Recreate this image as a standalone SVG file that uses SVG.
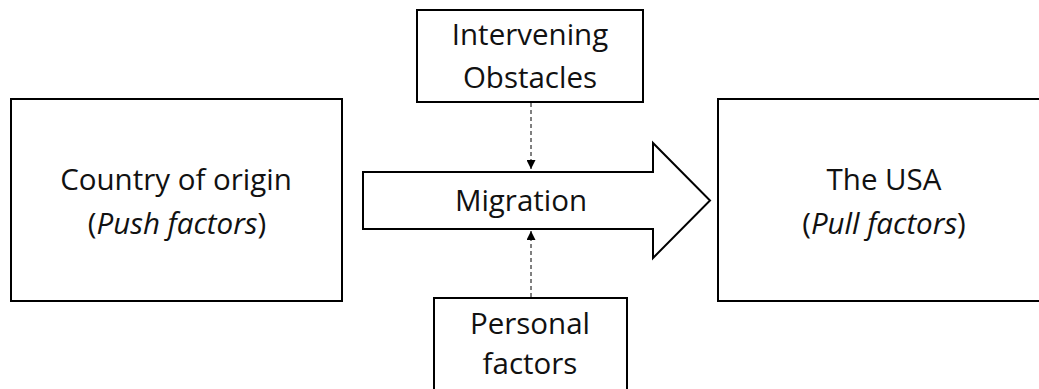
<svg xmlns="http://www.w3.org/2000/svg" width="1039" height="389" viewBox="0 0 1039 389">
  <style>
    .box { fill: #ffffff; stroke: #000000; stroke-width: 2; }
    .label { font-family: "Open Sans", "Noto Sans", sans-serif; font-size: 29.5px; fill: #111111; text-anchor: middle; }
    .em { font-style: italic; }
    .dash { fill: none; stroke: #000000; stroke-width: 1; stroke-dasharray: 4 3; }
  </style>
  <defs>
    <marker id="tip" viewBox="0 0 10 10" refX="10" refY="5" markerWidth="10" markerHeight="9" markerUnits="userSpaceOnUse" orient="auto">
      <path d="M0,0 L10,5 L0,10 Z" fill="#000000"/>
    </marker>
  </defs>
  <rect width="1039" height="389" fill="#ffffff"/>

  <g id="connectors">
    <line class="dash" x1="531" y1="103" x2="531" y2="169" marker-end="url(#tip)"/>
    <line class="dash" x1="531" y1="297" x2="531" y2="231" marker-end="url(#tip)"/>
  </g>

  <g id="origin">
    <rect class="box" x="11" y="99" width="331" height="202"/>
    <text class="label" x="176" y="190">Country of origin</text>
    <text class="label" x="177" y="234">(<tspan class="em">Push factors</tspan>)</text>
  </g>

  <g id="obstacles">
    <rect class="box" x="417" y="10" width="226" height="92"/>
    <text class="label" x="530" y="45">Intervening</text>
    <text class="label" x="530" y="88">Obstacles</text>
  </g>

  <g id="migration">
    <path class="box" d="M363,172 L653,172 L653,143 L710,200.5 L653,258 L653,229 L363,229 Z"/>
    <text class="label" x="521" y="211">Migration</text>
  </g>

  <g id="personal">
    <rect class="box" x="434" y="298" width="193" height="100"/>
    <text class="label" x="530" y="334">Personal</text>
    <text class="label" x="530" y="374">factors</text>
  </g>

  <g id="destination">
    <rect class="box" x="718" y="99" width="330" height="202"/>
    <text class="label" x="884" y="190">The USA</text>
    <text class="label" x="884" y="234">(<tspan class="em">Pull factors</tspan>)</text>
  </g>
</svg>
